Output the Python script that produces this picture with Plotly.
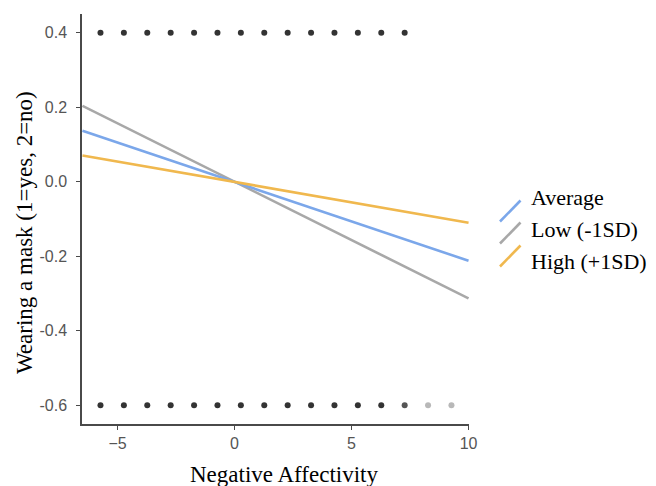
import plotly.graph_objects as go

# ---- data ----
dot_x_top = [-5.73, -4.73, -3.73, -2.73, -1.73, -0.73, 0.27, 1.27, 2.27, 3.27, 4.27, 5.27, 6.27, 7.27]
dot_y_top = [0.4] * len(dot_x_top)
dot_x_bot = [-5.73, -4.73, -3.73, -2.73, -1.73, -0.73, 0.27, 1.27, 2.27, 3.27, 4.27, 5.27, 6.27, 7.27, 8.27, 9.27]
dot_y_bot = [-0.6] * len(dot_x_bot)
dot_shade_bot = ["#333333"] * 13 + ["#555555", "#b8b8b8", "#b8b8b8"]

line_x = [-6.5, 10.0]
series_names = ["Average", "Low (-1SD)", "High (+1SD)"]
series_y = {
    "Average": [0.1365, -0.212],
    "Low (-1SD)": [0.2035, -0.313],
    "High (+1SD)": [0.0705, -0.110],
}
colors = {"Average": "#7ba7ea", "Low (-1SD)": "#a8a8a8", "High (+1SD)": "#f0b84e"}

x_ticks = [-5, 0, 5, 10]
y_ticks = [0.4, 0.2, 0.0, -0.2, -0.4, -0.6]
y_tick_text = ["0.4", "0.2", "0.0", "-0.2", "-0.4", "-0.6"]

# ---- layout geometry (screen pixels; page body has an 8px margin) ----
OFF = 8
W, H = 656 - OFF, 486 - OFF
L, R, T, B = 82, 469, 14, 424  # plot area in screen pixels

def px(x):
    return (x - L) / (R - L)

def py(y):
    return (B - y) / (B - T)

fig = go.Figure()

fig.add_trace(go.Scatter(x=dot_x_top, y=dot_y_top, mode="markers",
                         marker=dict(size=6, color="#333333"), showlegend=False, hoverinfo="skip"))
fig.add_trace(go.Scatter(x=dot_x_bot, y=dot_y_bot, mode="markers",
                         marker=dict(size=6, color=dot_shade_bot), showlegend=False, hoverinfo="skip"))

for name in ["Low (-1SD)", "Average", "High (+1SD)"]:
    fig.add_trace(go.Scatter(x=line_x, y=series_y[name], mode="lines",
                             line=dict(color=colors[name], width=2.6), name=name, showlegend=False))

axis_common = dict(showgrid=False, zeroline=False, showline=True, linecolor="#4a4a4a", linewidth=1.5,
                   ticks="outside", ticklen=4, tickwidth=1.2, tickcolor="#4a4a4a",
                   tickfont=dict(family="Liberation Sans, Arial", size=16, color="#555555"))

fig.update_layout(
    width=W, height=H,
    margin=dict(l=L - OFF, r=656 - R, t=T - OFF, b=486 - B, pad=0),
    paper_bgcolor="white", plot_bgcolor="white",
    xaxis=dict(range=[-6.52, 10.02], tickvals=x_ticks, **axis_common),
    yaxis=dict(range=[-0.65, 0.45], tickvals=y_ticks, ticktext=y_tick_text,
               ticklabelstandoff=6, **axis_common),
    showlegend=False,
)

serif = "Liberation Serif, Times New Roman"
# axis titles
fig.add_annotation(x=px(284), y=py(474), xref="paper", yref="paper", text="Negative Affectivity",
                   xanchor="center", yanchor="middle",
                   showarrow=False, font=dict(family=serif, size=23, color="black"))
fig.add_annotation(x=px(24), y=py(233), xref="paper", yref="paper", text="Wearing a mask (1=yes, 2=no)",
                   xanchor="center", yanchor="middle",
                   textangle=-90, showarrow=False, font=dict(family=serif, size=23, color="black"))

# legend (manual, diagonal keys)
text_y = [198, 229.5, 261]
key_y = [211, 233, 256]
for name, ty, ky in zip(series_names, text_y, key_y):
    fig.add_shape(type="line", xref="paper", yref="paper",
                  x0=px(500), y0=py(ky + 10.5), x1=px(520.5), y1=py(ky - 10.5),
                  line=dict(color=colors[name], width=2.6))
    fig.add_annotation(x=px(529), y=py(ty), xref="paper", yref="paper", text=name,
                       xanchor="left", yanchor="middle", showarrow=False,
                       font=dict(family=serif, size=22, color="black"))

fig.write_html("out.html")
